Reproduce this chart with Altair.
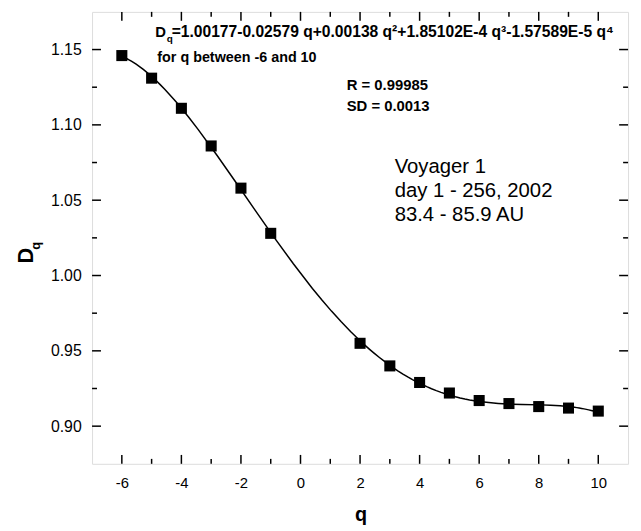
import altair as alt
import pandas as pd

# ---- data ----
q_vals = [-6, -5, -4, -3, -2, -1, 2, 3, 4, 5, 6, 7, 8, 9, 10]
dq_vals = [1.146, 1.131, 1.111, 1.086, 1.058, 1.028, 0.955, 0.940,
           0.929, 0.922, 0.917, 0.915, 0.913, 0.912, 0.910]

x_major = [-6, -4, -2, 0, 2, 4, 6, 8, 10]
x_minor = [-5, -3, -1, 1, 3, 5, 7, 9]
y_major = [0.90, 0.95, 1.00, 1.05, 1.10, 1.15]
y_minor = [0.925, 0.975, 1.025, 1.075, 1.125]

eq_text = "=1.00177-0.02579 q+0.00138 q\u00b2+1.85102E-4 q\u00b3-1.57589E-5 q\u2074"
range_text = "for q between -6 and 10"
r_text = "R = 0.99985"
sd_text = "SD = 0.0013"
info_lines = ["Voyager 1", "day 1 - 256, 2002", "83.4 - 85.9 AU"]

W, H = 542, 457
FONT = "Liberation Sans"

xscale = alt.Scale(domain=[-7, 11], nice=False, zero=False)
yscale = alt.Scale(domain=[0.875, 1.175], nice=False, zero=False)

x_axis = alt.Axis(values=x_major, title=None, ticks=False, domain=False, grid=False,
                  labelFontSize=15, labelPadding=12, labelColor="black",
                  labelExpr="datum.value + ''", labelFont=FONT)
y_axis = alt.Axis(values=y_major, title=None, ticks=False, domain=False, grid=False,
                  labelFontSize=16, labelPadding=11, labelColor="black",
                  format=".2f", labelFont=FONT)

x_enc = alt.X("q:Q", scale=xscale, axis=x_axis)
y_enc = alt.Y("D:Q", scale=yscale, axis=y_axis)

df = pd.DataFrame({"q": q_vals, "D": dq_vals})
base = alt.Chart(df)

# 4th-order polynomial fit, computed by Vega from the data points
curve = base.transform_regression(
    "q", "D", method="poly", order=4, extent=[-6, 10]
).mark_line(color="black", strokeWidth=1.5).encode(x=x_enc, y=y_enc)

points = base.mark_square(size=125, color="black", opacity=1).encode(x=x_enc, y=y_enc)


def xticks(vals, length, top):
    d = pd.DataFrame({"q": vals})
    if top:
        yy, yy2 = alt.value(0), alt.value(length)
    else:
        yy, yy2 = alt.value(H), alt.value(H - length)
    return alt.Chart(d).mark_rule(color="black", strokeWidth=1.5).encode(
        x=x_enc, y=yy, y2=yy2)


def yticks(vals, length, right):
    d = pd.DataFrame({"D": vals})
    if right:
        xx, xx2 = alt.value(W), alt.value(W - length)
    else:
        xx, xx2 = alt.value(0), alt.value(length)
    return alt.Chart(d).mark_rule(color="black", strokeWidth=1.5).encode(
        y=y_enc, x=xx, x2=xx2)


def label(txt, x, y, size, bold=True, angle=0, align="left"):
    return alt.Chart(pd.DataFrame({"t": [txt]})).mark_text(
        align=align, baseline="alphabetic", fontSize=size,
        fontWeight="bold" if bold else "normal", font=FONT,
        color="black", angle=angle
    ).encode(x=alt.value(x), y=alt.value(y), text="t:N")


layers = [curve, points]
for top in (False, True):
    layers.append(xticks(x_major, 9, top))
    layers.append(xticks(x_minor, 5, top))
for right in (False, True):
    layers.append(yticks(y_major, 9, right))
    layers.append(yticks(y_minor, 5, right))

layers += [
    label("D", 64, 25.5, 15),
    label("q", 75.5, 30, 10),
    label(eq_text, 80.5, 25.5, 15.8),
    label(range_text, 66, 50.5, 14.5),
    label(r_text, 257.5, 79.3, 15),
    label(sd_text, 257.5, 100.5, 15),
    label(info_lines[0], 306, 162.7, 20.5, bold=False),
    label(info_lines[1], 306, 187, 20.5, bold=False),
    label(info_lines[2], 306, 211, 20.5, bold=False),
    label("q", 272, 515, 20, align="center"),
    label("D", -59.7, 246.5, 22, angle=270, align="center"),
    label("q", -52.2, 236.5, 13, angle=270, align="center"),
]

chart = alt.layer(*layers).properties(
    width=W, height=H,
    padding={"left": 85, "top": 1, "right": 5, "bottom": 65},
    autosize=alt.AutoSizeParams(type="none"),
).configure_view(stroke="black", strokeWidth=2).configure(font=FONT)

chart.save("out.html", embed_options={"renderer": "svg", "actions": False})
